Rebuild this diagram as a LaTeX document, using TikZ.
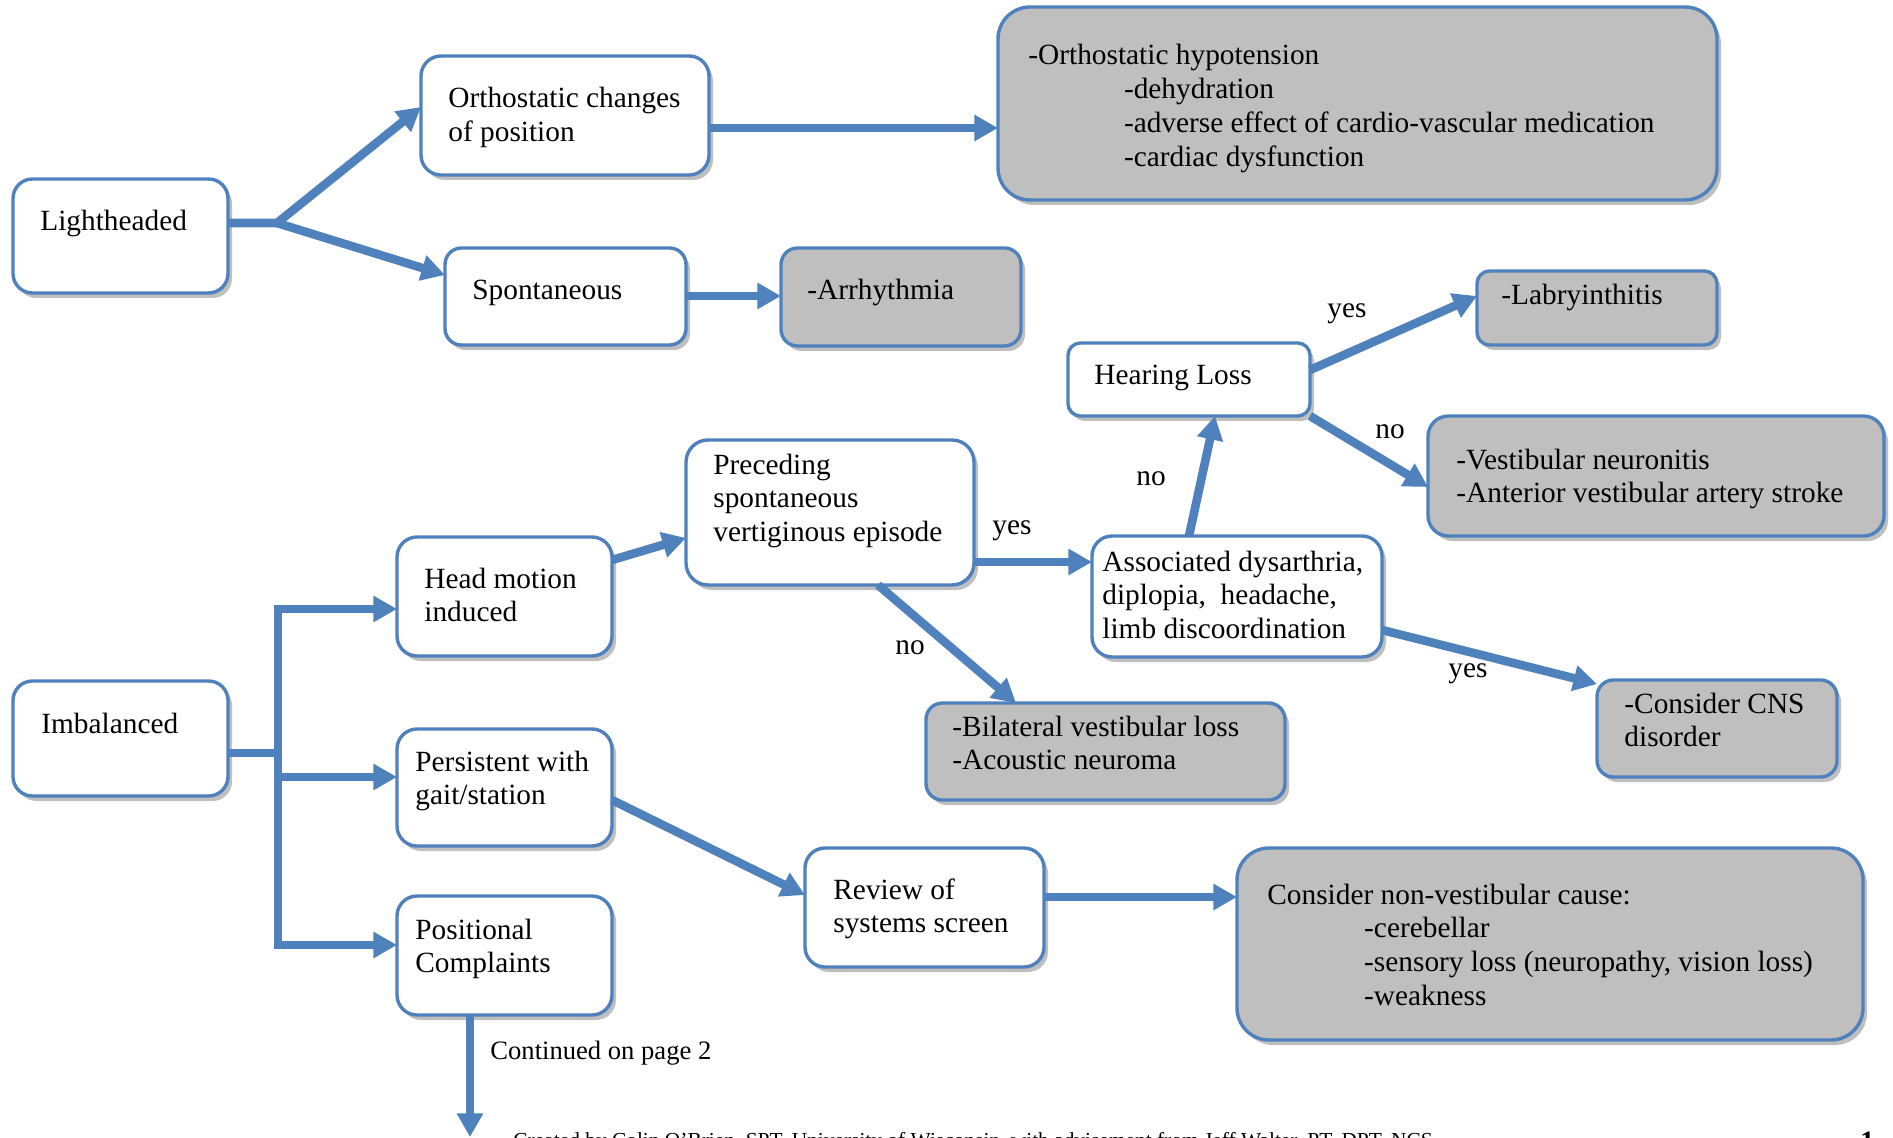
\documentclass[tikz,border=0pt]{standalone}
\usepackage{fontspec}
\setmainfont{Liberation Serif}
\usetikzlibrary{arrows.meta,calc,shadows}
\definecolor{bblue}{RGB}{79,129,189}
\definecolor{bgray}{RGB}{191,191,191}
\newcommand\tl[1]{\vtop{\halign{##\hfil\cr#1\crcr}}}
\tikzset{
 box/.style={draw=bblue, line width=1.7pt, anchor=north west, inner sep=0pt, outer sep=0pt,
   drop shadow={shadow xshift=2pt, shadow yshift=-2.5pt, opacity=0.25, fill=black}},
 wbox/.style={box, fill=white},
 gbox/.style={box, fill=bgray},
 txt/.style={anchor=base west, inner sep=0pt, font=\fontsize{14.67}{16.9}\selectfont},
 conn/.style={draw=bblue, line width=4.3pt, -{Triangle[length=11.8pt,width=12.5pt]}},
 bar/.style={draw=bblue, line width=4.3pt},
}
\begin{document}
\begin{tikzpicture}[x=0.5pt,y=-0.5pt]
\useasboundingbox (0,0) rectangle (1893,1138);
% boxes
\node[wbox, rounded corners=9.7pt, minimum width=107.5pt, minimum height=57pt] (L) at (13,179) {};
\node[wbox, rounded corners=10pt, minimum width=144pt, minimum height=59.5pt] (O) at (421,56) {};
\node[gbox, rounded corners=16pt, minimum width=359.5pt, minimum height=96.5pt] (H) at (998,7) {};
\node[wbox, rounded corners=8.2pt, minimum width=120.5pt, minimum height=48.5pt] (S) at (445,248) {};
\node[gbox, rounded corners=8.3pt, minimum width=120pt, minimum height=49pt] (A) at (781,248) {};
\node[gbox, rounded corners=6.3pt, minimum width=120pt, minimum height=37pt] (Lab) at (1477,271) {};
\node[wbox, rounded corners=6.2pt, minimum width=121pt, minimum height=36.5pt] (HL) at (1068,343) {};
\node[gbox, rounded corners=10.2pt, minimum width=228pt, minimum height=60pt] (V) at (1428,416) {};
\node[wbox, rounded corners=11pt, minimum width=144pt, minimum height=72.5pt] (P) at (686,440) {};
\node[wbox, rounded corners=10pt, minimum width=107.5pt, minimum height=59.5pt] (HM) at (397,537) {};
\node[wbox, rounded corners=10pt, minimum width=145pt, minimum height=60.5pt] (AS) at (1092,536) {};
\node[wbox, rounded corners=9.7pt, minimum width=107.5pt, minimum height=57.5pt] (I) at (13,681) {};
\node[gbox, rounded corners=8.2pt, minimum width=179.5pt, minimum height=48.5pt] (B) at (926,703) {};
\node[gbox, rounded corners=8.2pt, minimum width=120pt, minimum height=48.5pt] (C) at (1597,680) {};
\node[wbox, rounded corners=10pt, minimum width=107.5pt, minimum height=58.5pt] (PE) at (397,729) {};
\node[wbox, rounded corners=10pt, minimum width=119.5pt, minimum height=59.5pt] (R) at (805,848) {};
\node[gbox, rounded corners=16pt, minimum width=313pt, minimum height=96pt] (N) at (1237,848) {};
\node[wbox, rounded corners=10pt, minimum width=107.5pt, minimum height=59.5pt] (PO) at (397,896) {};
% texts
\node[txt] (tL) at ($(L.north west)+(27,52)$) {\tl{Lightheaded}};
\node[txt] (tO) at ($(O.north west)+(27,52)$) {\tl{Orthostatic changes\cr of position}};
\node[txt] (tH) at ($(H.north west)+(30,58)$) {\tl{-Orthostatic hypotension\cr
  \hskip47.8pt -dehydration\cr
  \hskip47.8pt -adverse effect of cardio-vascular medication\cr
  \hskip47.8pt -cardiac dysfunction}};
\node[txt] (tS) at ($(S.north west)+(27,52)$) {\tl{Spontaneous}};
\node[txt] (tA) at ($(A.north west)+(26,52)$) {\tl{-Arrhythmia}};
\node[txt] (tLab) at ($(Lab.north west)+(24,34)$) {\tl{-Labryinthitis}};
\node[txt] (tHL) at ($(HL.north west)+(26,42)$) {\tl{Hearing Loss}};
\node[txt] (tV) at ($(V.north west)+(28,53)$) {\tl{-Vestibular neuronitis\cr -Anterior vestibular artery stroke}};
\node[txt] (tP) at ($(P.north west)+(27,34)$) {\tl{Preceding\cr spontaneous\cr vertiginous episode}};
\node[txt] (tHM) at ($(HM.north west)+(27,51)$) {\tl{Head motion\cr induced}};
\node[txt] (tAS) at ($(AS.north west)+(10,35)$) {\tl{Associated dysarthria,\cr diplopia,\ \ headache,\cr limb discoordination}};
\node[txt] (tI) at ($(I.north west)+(28,52)$) {\tl{Imbalanced}};
\node[txt] (tB) at ($(B.north west)+(26,33)$) {\tl{-Bilateral vestibular loss\cr -Acoustic neuroma}};
\node[txt] (tC) at ($(C.north west)+(27,33)$) {\tl{-Consider CNS\cr disorder}};
\node[txt] (tPE) at ($(PE.north west)+(18,42)$) {\tl{Persistent with\cr gait/station}};
\node[txt] (tR) at ($(R.north west)+(28,51)$) {\tl{Review of\cr systems screen}};
\node[txt] (tN) at ($(N.north west)+(30,56)$) {\tl{Consider non-vestibular cause:\cr
  \hskip48.4pt -cerebellar\cr
  \hskip48.4pt -sensory loss (neuropathy, vision loss)\cr
  \hskip48.4pt -weakness}};
\node[txt] (tPO) at ($(PO.north west)+(18,43)$) {\tl{Positional\cr Complaints}};
% junctions
\coordinate (jL) at (277,223);
\coordinate (jI) at (278,753);
\coordinate (cont) at (470,1137);
% connectors
\draw[conn] ($(L.north east)+(0,44)$) -- (jL) -- ($(O.north west)+(0,51)$);
\draw[conn] (jL) -- ($(S.north west)+(0,27)$);
\draw[conn] ($(O.north east)+(0,72)$) -- ($(H.north west)+(0,121)$);
\draw[conn] ($(S.north east)+(0,48)$) -- ($(A.north west)+(0,48)$);
\draw[bar] ($(I.north east)+(0,72)$) -- (jI);
\draw[conn] (jI) |- ($(HM.north west)+(0,72)$);
\draw[conn] (jI) |- ($(PE.north west)+(0,48)$);
\draw[conn] (jI) |- ($(PO.north west)+(0,49)$);
\draw[conn] ($(HM.north east)+(0,23)$) -- ($(P.north west)+(0,98)$);
\draw[conn] ($(P.north east)+(0,122)$) -- ($(AS.north west)+(0,26)$);
\draw[conn] ($(P.south west)+(192,0)$) -- ($(B.north west)+(90,0)$);
\draw[conn] ($(AS.north west)+(97,0)$) -- ($(HL.south west)+(147,0)$);
\draw[conn] ($(HL.north east)+(0,27)$) -- ($(Lab.north west)+(0,25)$);
\draw[conn] (HL.south east) -- ($(V.north west)+(0,71)$);
\draw[conn] ($(AS.north east)+(0,94)$) -- ($(C.north west)+(0,4)$);
\draw[conn] ($(PE.north east)+(0,71)$) -- ($(R.north west)+(0,47)$);
\draw[conn] ($(R.north east)+(0,49)$) -- ($(N.north west)+(0,49)$);
\draw[conn] ($(PO.south west)+(73,0)$) -- (cont);
% labels
\node[txt] (y1) at (992,534) {yes};
\node[txt] (n1) at (1136,486) {no};
\node[txt] (n2) at (895,654) {no};
\node[txt] (y2) at (1327,318) {yes};
\node[txt] (n3) at (1375,438) {no};
\node[txt] (y3) at (1448,677) {yes};
\node[anchor=base west, inner sep=0pt, font=\fontsize{13.3}{15.3}\selectfont] (cp) at (490,1059) {Continued on page 2};
\node[anchor=base west, inner sep=0pt, font=\fontsize{10.7}{12.3}\selectfont] (foot) at (513,1147)
  {Created by Colin O'Brien, SPT, University of Wisconsin, with advisement from Jeff Walter, PT, DPT, NCS};
\node[anchor=base west, inner sep=0pt, font=\fontsize{14}{16}\selectfont\bfseries] (pg) at (1860,1150) {1};
\end{tikzpicture}
\end{document}
